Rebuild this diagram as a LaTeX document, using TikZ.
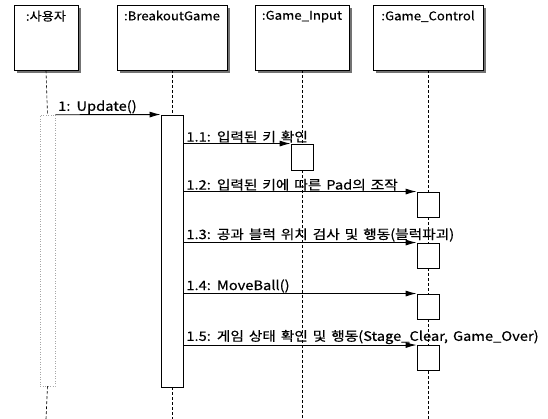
\documentclass[tikz,border=0pt]{standalone}
\usepackage{fontspec}
\setmainfont{Noto Sans CJK KR}
\newfontfamily\krfont[FakeStretch=1.1,WordSpace=1.8,FakeBold=0.5]{Noto Sans CJK KR}
\newfontfamily\msgfont[FakeStretch=1.13,WordSpace=1.5,FakeBold=0.5]{Noto Sans CJK KR}
\usetikzlibrary{arrows.meta,shadows}

\begin{document}
\begin{tikzpicture}[
  x=1pt, y=-1pt,
  head/.style={rectangle,draw,line width=0.9pt,fill=white,minimum height=65pt,inner sep=0pt,
    drop shadow={shadow xshift=3pt,shadow yshift=-3pt,fill=black!55,opacity=1}},
  headtext/.style={anchor=north,font=\krfont\fontsize{12}{14}\selectfont,inner sep=0pt,yshift=-6pt},
  act/.style={rectangle,draw,line width=0.9pt,fill=white,minimum width=22pt,inner sep=0pt},
  userbar/.style={rectangle,draw=black!35,dotted,line width=0.5pt,minimum width=15pt,inner sep=0pt},
  lifeline/.style={densely dashed,line width=0.6pt},
  msg/.style={-{Latex[length=11pt,width=6pt]},line width=0.9pt},
  msgtext/.style={anchor=south west,font=\msgfont\fontsize{13}{15}\selectfont,inner sep=0.5pt,xshift=2pt}
]
\useasboundingbox (0,0) rectangle (548,419);

% objects
\node[head,minimum width=64pt,label={[headtext]north:{:사용자}}] (user) at (46,37.5) {};
\node[head,minimum width=110pt,label={[headtext]north:{:BreakoutGame}}] (game) at (172,37.5) {};
\node[head,minimum width=94pt,label={[headtext]north:{:Game\_Input}}] (input) at (302,37.5) {};
\node[head,minimum width=110pt,label={[headtext]north:{:Game\_Control}}] (control) at (428,37.5) {};

\coordinate (userend) at (46,419);
\coordinate (gameend) at (172,419);
\coordinate (inputend) at (302,419);
\coordinate (controlend) at (428,419);

% activations
\node[userbar,minimum height=271pt] (useract) at (47.5,250.5) {};
\node[act,minimum height=272pt] (gameact) at (172,251) {};
\node[act,minimum height=26pt] (inact) at (302,157) {};
\node[act,minimum height=25pt] (ctl1) at (428,204.5) {};
\node[act,minimum height=25pt] (ctl2) at (428,255.5) {};
\node[act,minimum height=25pt] (ctl3) at (428,306.5) {};
\node[act,minimum height=25pt] (ctl4) at (428,358) {};

% lifelines
\draw[lifeline] (user.south) -- (useract.north) (useract.south) -- (userend);
\draw[lifeline] (game.south) -- (gameact.north) (gameact.south) -- (gameend);
\draw[lifeline] (input.south) -- (inact.north) (inact.south) -- (inputend);
\draw[lifeline] (control.south) -- (ctl1.north) (ctl1.south) -- (ctl2.north)
  (ctl2.south) -- (ctl3.north) (ctl3.south) -- (ctl4.north) (ctl4.south) -- (controlend);

% messages
\draw[msg] (useract.north east) -- (gameact.north west) node[pos=0,msgtext] {1: Update()};
\draw[msg] (gameact.east |- inact.north) -- (inact.north west) node[pos=0,msgtext] {1.1: 입력된 키 확인};
\draw[msg] (gameact.east |- ctl1.north) -- (ctl1.north west) node[pos=0,msgtext] {1.2: 입력된 키에 따른 Pad의 조작};
\draw[msg] (gameact.east |- ctl2.north) -- (ctl2.north west) node[pos=0,msgtext] {1.3: 공과 블럭 위치 검사 및 행동(블럭파괴)};
\draw[msg] (gameact.east |- ctl3.north) -- (ctl3.north west) node[pos=0,msgtext] {1.4: MoveBall()};
\draw[msg] (gameact.east |- ctl4.north) -- (ctl4.north west) node[pos=0,msgtext] {1.5: 게임 상태 확인 및 행동(Stage\_Clear, Game\_Over)};
\end{tikzpicture}
\end{document}
